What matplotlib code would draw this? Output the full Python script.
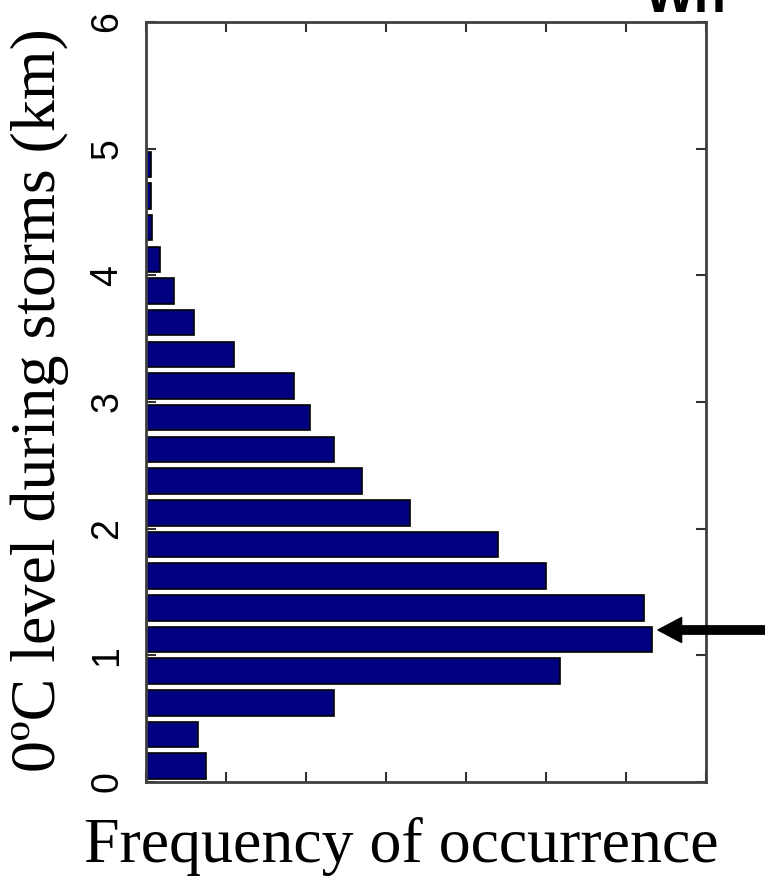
import matplotlib
matplotlib.use("Agg")
import matplotlib.pyplot as plt
import numpy as np

# Data: bin centers of freezing level (km) and frequency of occurrence (arbitrary units)
levels_km = [0.125, 0.375, 0.625, 0.875, 1.125, 1.375, 1.625, 1.875, 2.125, 2.375,
             2.625, 2.875, 3.125, 3.375, 3.625, 3.875, 4.125, 4.375, 4.625, 4.875]
frequency = [0.75, 0.65, 2.35, 5.18, 6.33, 6.23, 5.0, 4.4, 3.3, 2.7,
             2.35, 2.05, 1.85, 1.1, 0.6, 0.35, 0.175, 0.08, 0.06, 0.06]
y_ticks = [0, 1, 2, 3, 4, 5, 6]
x_ticks = [0, 1, 2, 3, 4, 5, 6, 7]

W, H = 765, 877
fig = plt.figure(figsize=(W / 100, H / 100), dpi=100)
ax = fig.add_axes([146 / W, 1 - 782 / H, (706 - 146) / W, (782 - 22) / H])

ax.barh(levels_km, frequency, height=0.2, color='#000080', edgecolor='black', linewidth=1.2, zorder=2)

ax.set_xlim(0, 7)
ax.set_ylim(0, 6)
ax.set_yticks(y_ticks)
ax.set_xticks(x_ticks)
ax.set_xticklabels([])
ax.set_yticklabels([str(t) for t in y_ticks], rotation=90, va='center',
                   fontsize=27, family='Liberation Sans')
ax.tick_params(axis='both', direction='in', length=7, width=1.5, color='#333333',
               top=True, right=True)
ax.tick_params(axis='y', pad=15)
for s in ax.spines.values():
    s.set_linewidth(2)
    s.set_color('#404040')

fig.text(40 / W, 1 - 400 / H, '0ºC level during storms (km)', rotation=90,
         ha='center', va='center', fontsize=46, family='Liberation Serif')
fig.text(401 / W, 1 - 862 / H, 'Frequency of occurrence', ha='center', va='baseline',
         fontsize=46, family='Liberation Serif')

# partially visible title at top right (cut off by the figure edge, as in the reference)
fig.text(645 / W, 1 - 12 / H, 'Wh', ha='left', va='baseline', fontsize=38,
         family='Liberation Sans', weight='bold')

# arrow pointing at the peak
ax.annotate('', xy=(6.4, 1.2), xycoords='data',
            xytext=(1.01, 1 - 630 / H), textcoords='figure fraction',
            arrowprops=dict(arrowstyle='simple,head_length=1.7,head_width=1.8,tail_width=0.6',
                            mutation_scale=10, color='black', shrinkA=0, shrinkB=0),
            annotation_clip=False)

fig.savefig('out.png', dpi=100)
